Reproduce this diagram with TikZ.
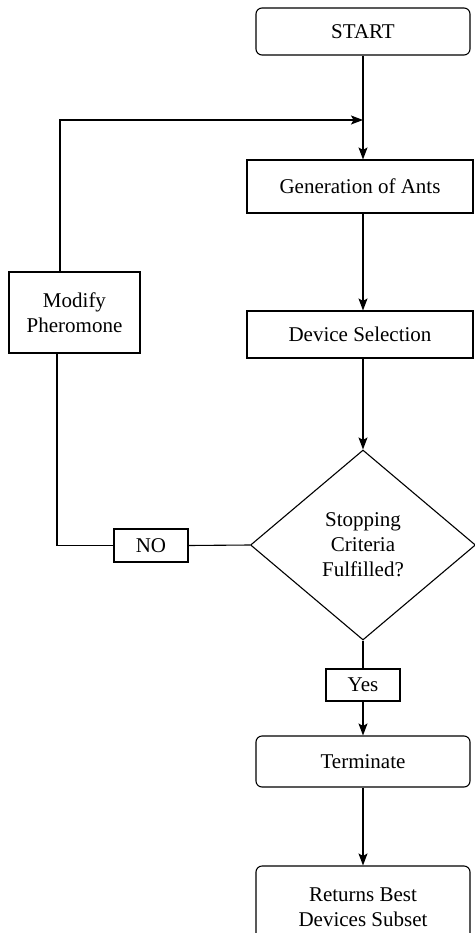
\documentclass[tikz,border=0pt]{standalone}
\usepackage{fontspec}
\setmainfont{Liberation Serif}
\usetikzlibrary{shapes.geometric,arrows.meta}
\begin{document}
\begin{tikzpicture}[x=1pt,y=-1pt,
  every node/.style={font=\fontsize{21}{25}\selectfont, align=center, inner sep=0pt},
  box/.style={draw, line width=1.1pt, rectangle},
  rbox/.style={box, rounded corners=6pt},
  dia/.style={draw, line width=1.1pt, diamond, aspect=1.19},
  conn/.style={line width=1.1pt},
  arr/.style={conn, -{Stealth[length=12pt,width=9pt,inset=2.5pt]}}]
\useasboundingbox (0,0) rectangle (474,933);
\node[rbox, minimum width=214pt, minimum height=47pt] (start) at (363,31.5) {START};
\node[box, minimum width=226pt, minimum height=53pt] (gen) at (360,186.5) {Generation of Ants};
\node[box, minimum width=226pt, minimum height=47pt] (dev) at (360,334.5) {Device Selection};
\node[dia, minimum width=225pt, minimum height=190pt] (stop) at (363,545) {Stopping\\Criteria\\Fulfilled?};
\node[box, minimum width=131pt, minimum height=81pt] (mod) at (74.5,312.5) {Modify\\Pheromone};
\node[box, minimum width=74pt, minimum height=33pt] (no) at (151,545.5) {NO};
\node[box, minimum width=74pt, minimum height=32pt] (yes) at (363,685) {Yes};
\node[rbox, minimum width=214pt, minimum height=51pt] (term) at (363,761.5) {Terminate};
\node[rbox, minimum width=214pt, minimum height=83pt] (ret) at (363,907.5) {Returns Best\\Devices Subset};
\coordinate (join) at (363,120);
\coordinate (topl) at (60,120);
\coordinate (botl) at (57,545.5);
\draw[conn] (start.south) -- (join);
\draw[arr] (join) -- (join |- gen.north);
\draw[arr] (mod.north -| topl) -- (topl) -- (join);
\draw[arr] (join |- gen.south) -- (join |- dev.north);
\draw[arr] (join |- dev.south) -- (join |- stop.north);
\draw[conn] (stop.west) -- (no.east);
\draw[conn] (no.west) -- (botl) -- (botl |- mod.south);
\draw[conn] (stop.south) -- (yes.north);
\draw[arr] (yes.south) -- (term.north);
\draw[arr] (term.south) -- (ret.north);
\end{tikzpicture}
\end{document}
